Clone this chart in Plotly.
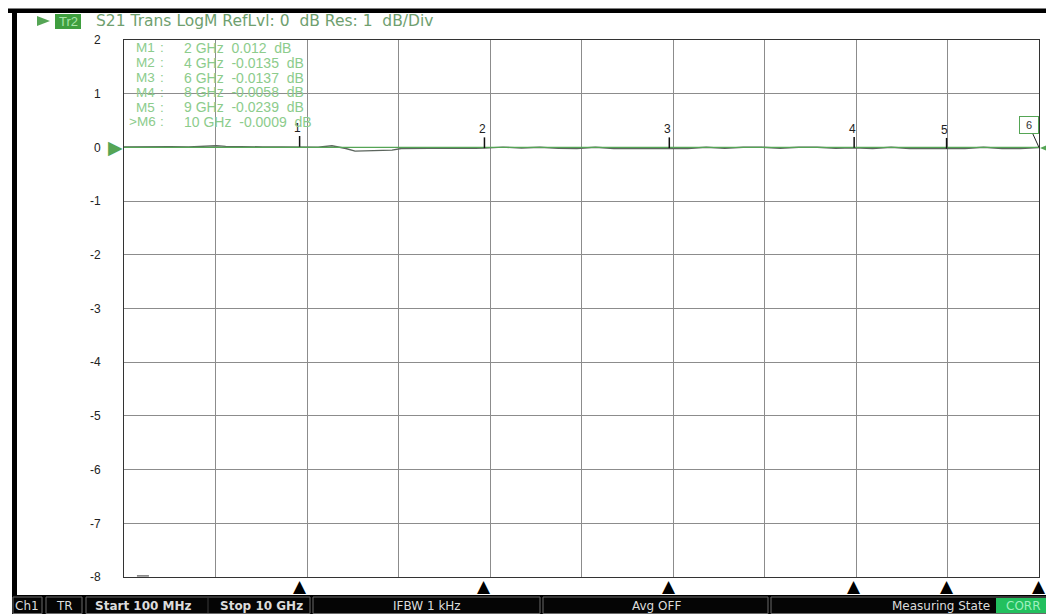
import plotly.graph_objects as go

# ---------------- data ----------------
freq_ghz = [0.1, 0.3, 0.5, 0.6, 0.8, 1.0, 1.1, 1.2, 1.4, 1.6, 1.8, 2.0, 2.2, 2.35, 2.5,
            2.6, 2.8, 3.0, 3.1, 3.3, 3.5, 3.7, 3.9, 4.0, 4.2, 4.4, 4.6, 4.8, 5.0, 5.2,
            5.4, 5.6, 5.8, 6.0, 6.2, 6.4, 6.6, 6.8, 7.0, 7.2, 7.4, 7.6, 7.8, 8.0, 8.2,
            8.4, 8.6, 8.8, 9.0, 9.2, 9.4, 9.6, 9.8, 10.0]
s21_db = [0.01, 0.012, 0.025, 0.015, 0.01, 0.02, 0.03, 0.02, 0.01, 0.008, 0.01, 0.012,
          0.005, 0.03, -0.02, -0.07, -0.06, -0.05, -0.02, -0.015, -0.02, -0.01, -0.015,
          -0.0135, 0.005, -0.01, 0.004, -0.018, -0.02, 0.003, -0.02, -0.022, -0.015,
          -0.0137, -0.02, 0.004, -0.018, 0.002, 0.003, -0.015, 0.004, 0.002, -0.015,
          -0.0058, -0.02, 0.003, -0.02, -0.02, -0.0239, -0.02, 0.002, -0.02, -0.02, -0.0009]

marker_names = ["M1", "M2", "M3", "M4", "M5", ">M6"]
marker_freq_ghz = [2, 4, 6, 8, 9, 10]
marker_val_db = [0.012, -0.0135, -0.0137, -0.0058, -0.0239, -0.0009]
marker_val_text = ["0.012", "-0.0135", "-0.0137", "-0.0058", "-0.0239", "-0.0009"]

y_ticks = [2, 1, 0, -1, -2, -3, -4, -5, -6, -7, -8]
ref_level_db = 0
start_ghz = 0.1
stop_ghz = 10.0

title_text = "S21 Trans LogM RefLvl: 0  dB Res: 1  dB/Div"
status_items = ["Ch1", "TR", "Start 100 MHz", "Stop 10 GHz", "IFBW 1 kHz", "Avg OFF",
                "Measuring State", "CORR"]

# ---------------- layout helpers ----------------
# the page body has an 8px margin; the figure is sized to fill the rest of the window
OFF = 8
W, H = 1054 - OFF, 614 - OFF
L, R, T, B = 124, 1039, 40, 577  # plot area in window pixels


def px(x):
    return (x - L) / (R - L)


def py(y):
    return (B - y) / (B - T)


GREEN = "#55a555"
fig = go.Figure()

# data trace
fig.add_trace(go.Scatter(x=freq_ghz, y=s21_db, mode="lines",
                         line=dict(color="#5c665e", width=1.4), hoverinfo="skip",
                         showlegend=False))
# reference line
fig.add_trace(go.Scatter(x=[start_ghz, stop_ghz], y=[ref_level_db, ref_level_db], mode="lines",
                         line=dict(color=GREEN, width=1.1), hoverinfo="skip", showlegend=False))

# marker stems and numbers (markers 1-5)
for i in range(5):
    f, v = marker_freq_ghz[i], marker_val_db[i]
    fig.add_shape(type="line", xref="x", yref="y", x0=f, x1=f, y0=v, y1=v + 0.2,
                  line=dict(color="#111111", width=1.5))
    fig.add_annotation(x=f, y=v + 0.2, xref="x", yref="y", text=str(i + 1), showarrow=False,
                       yanchor="bottom", xshift=-2, yshift=-1,
                       font=dict(family="Liberation Sans", size=12, color="#222222"))

# marker 6 box with leader line
fig.add_annotation(x=marker_freq_ghz[5], y=marker_val_db[5], xref="x", yref="y", text="6",
                   showarrow=True, arrowhead=0, arrowwidth=1, arrowcolor="#222222",
                   ax=-10, ay=-22, bordercolor=GREEN, borderwidth=1, borderpad=2,
                   bgcolor="white", width=14,
                   font=dict(family="Liberation Sans", size=11, color="#333333"))

# marker triangles under the axis
for f in marker_freq_ghz:
    fig.add_annotation(x=f, y=-8, xref="x", yref="y", text="▲", showarrow=False,
                       yanchor="top", yshift=3,
                       font=dict(family="DejaVu Sans", size=17, color="black"))

# green reference-level arrows
fig.add_annotation(x=start_ghz, y=ref_level_db, xref="x", yref="y", text="▶", showarrow=False,
                   xanchor="right", yanchor="middle", xshift=1,
                   font=dict(family="DejaVu Sans", size=19, color=GREEN))
fig.add_shape(type="path", xref="paper", yref="paper",
              path=f"M {px(1052)},{py(143)} L {px(1040)},{py(148)} L {px(1052)},{py(153)} Z",
              fillcolor=GREEN, line=dict(width=0), layer="above")

# small dash at bottom left
fig.add_shape(type="line", xref="x", yref="y", x0=0.24, x1=0.37, y0=-7.98, y1=-7.98,
              line=dict(color="#333333", width=1))

# marker table
row_y = [48, 62.8, 77.6, 92.4, 107.2, 122]
for i in range(6):
    yy = py(row_y[i])
    xlab = 127 if marker_names[i].startswith(">") else 134
    fig.add_annotation(x=px(xlab), y=yy, xref="paper", yref="paper", text=marker_names[i],
                       showarrow=False, xanchor="left", yanchor="middle",
                       font=dict(family="Liberation Sans", size=13.5, color="#8ccc8c"))
    fig.add_annotation(x=px(158), y=yy, xref="paper", yref="paper", text=":",
                       showarrow=False, xanchor="left", yanchor="middle",
                       font=dict(family="Liberation Sans", size=13.5, color="#8ccc8c"))
    fig.add_annotation(x=px(182), y=yy, xref="paper", yref="paper",
                       text=f"{marker_freq_ghz[i]} GHz  {marker_val_text[i]}  dB",
                       showarrow=False, xanchor="left", yanchor="middle",
                       font=dict(family="Liberation Sans", size=14, color="#8ccc8c"))

# ---------------- frame / title ----------------
def rect(x0, x1, y0, y1, fill, line=None):
    fig.add_shape(type="rect", xref="paper", yref="paper", x0=px(x0), x1=px(x1),
                  y0=py(y1), y1=py(y0), fillcolor=fill,
                  line=line if line else dict(width=0), layer="above")


rect(OFF, 1054, 8.5, 13, "black")          # top black bar
rect(12, 17, 9, 614, "black")              # left black bar
fig.add_shape(type="path", xref="paper", yref="paper",
              path=f"M {px(37)},{py(16)} L {px(50)},{py(21)} L {px(37)},{py(26)} Z",
              fillcolor=GREEN, line=dict(width=0))
rect(55, 81, 14, 29, "#3f9e3f")            # Tr2 box

# status bar
rect(12, 1054, 595, 614, "black")
segs = [(13, 42), (46, 82), (86, 310), (313, 540), (543, 768), (771, 1053)]
for a, b in segs:
    rect(a, b, 597, 613.5, "#050505", dict(color="#6a6a6a", width=1))
fig.add_shape(type="line", xref="paper", yref="paper", x0=px(208), x1=px(208),
              y0=py(613), y1=py(597), line=dict(color="#3a3a3a", width=1), layer="above")
rect(996, 1051, 598, 613, "#22c05e")

fig.add_annotation(x=px(94), y=py(21), xref="paper", yref="paper", text=title_text,
                   showarrow=False, xanchor="left", yanchor="middle",
                   font=dict(family="DejaVu Sans", size=15.5, color="#6f9f6f"))
fig.add_annotation(x=px(68), y=py(21.5), xref="paper", yref="paper", text="Tr2",
                   showarrow=False, xanchor="center", yanchor="middle",
                   font=dict(family="Liberation Sans", size=13, color="#a8e4a8"))

sy = py(605.5)
status_pos = [(27, "center", False), (64, "center", False), (93, "left", True),
              (218, "left", True), (427, "center", False), (656, "center", False),
              (992, "right", False), (1023, "center", False)]
for txt, (xx, anc, bold) in zip(status_items, status_pos):
    col = "#9ff0bf" if txt == "CORR" else "#dcdcdc"
    fig.add_annotation(x=px(xx), y=sy, xref="paper", yref="paper",
                       text=f"<b>{txt}</b>" if bold else txt,
                       showarrow=False, xanchor=anc, yanchor="middle",
                       font=dict(family="DejaVu Sans", size=12, color=col))

fig.update_layout(
    width=W, height=H,
    margin=dict(l=L - OFF, r=1054 - R, t=T - OFF, b=614 - B, pad=0),
    paper_bgcolor="white", plot_bgcolor="white",
    showlegend=False,
    xaxis=dict(range=[start_ghz, stop_ghz], tick0=start_ghz, dtick=(stop_ghz - start_ghz) / 10,
               showgrid=True, gridcolor="#8c8c8c", gridwidth=1, showticklabels=False,
               ticks="", zeroline=False, showline=True, linecolor="#333333", linewidth=1,
               mirror=True, fixedrange=True),
    yaxis=dict(range=[-8, 2], tickvals=y_ticks, ticktext=[str(v) for v in y_ticks],
               showgrid=True, gridcolor="#8c8c8c", gridwidth=1, ticks="", zeroline=False,
               showline=True, linecolor="#333333", linewidth=1, mirror=True,
               ticklabelstandoff=20,
               tickfont=dict(family="Liberation Sans", size=12, color="#222222"),
               fixedrange=True),
)

fig.write_html("out.html")
